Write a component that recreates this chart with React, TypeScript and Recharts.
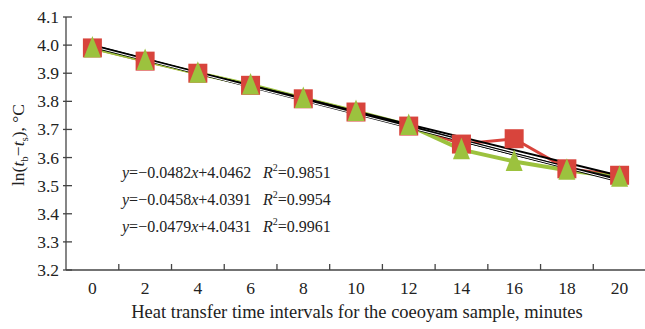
import React from "react";
import { LineChart, Line, XAxis, YAxis, ReferenceLine } from "recharts";

// heat transfer time (min)
const minutes = ["0", "2", "4", "6", "8", "10", "12", "14", "16", "18", "20"];
// ln(tb - ts) for the three runs
const run1 = [3.99, 3.943, 3.9, 3.857, 3.809, 3.762, 3.712, 3.648, 3.667, 3.56, 3.537];
const run2 = [3.99, 3.945, 3.9, 3.858, 3.81, 3.764, 3.714, 3.628, 3.586, 3.555, 3.53];
const run3 = [3.998, 3.95, 3.9, 3.856, 3.81, 3.761, 3.713, 3.66, 3.612, 3.566, 3.524];
// trendline ends (first and last interval)
const trendStart = [3.998, 3.993, 3.995];
const trendEnd = [3.516, 3.535, 3.516];
const equations = [
  { slope: "0.0482", icpt: "4.0462", r2: "0.9851" },
  { slope: "0.0458", icpt: "4.0391", r2: "0.9954" },
  { slope: "0.0479", icpt: "4.0431", r2: "0.9961" },
];
const yTicks = [3.2, 3.3, 3.4, 3.5, 3.6, 3.7, 3.8, 3.9, 4.0, 4.1];

const data = minutes.map((m, i) => ({ t: m, a: run1[i], b: run2[i], c: run3[i] }));

const FONT = "'Liberation Serif', 'Times New Roman', serif";
const AXIS_X = 66;
const AXIS_Y = 270;
const HALF_BAND = 26.4;

const Square = (props: any) => {
  const { cx, cy } = props;
  if (cx == null || cy == null) return null;
  return <rect x={cx - 9.5} y={cy - 9.5} width={19} height={19} fill="#d8443c" />;
};

const Triangle = (props: any) => {
  const { cx, cy } = props;
  if (cx == null || cy == null) return null;
  return (
    <polygon
      points={`${cx - 8.5},${cy + 9.5} ${cx + 8.5},${cy + 9.5} ${cx},${cy - 12}`}
      fill="#9cc23e"
    />
  );
};

const XTick = (props: any) => {
  const { x, payload } = props;
  return (
    <g>
      <line x1={x + HALF_BAND} x2={x + HALF_BAND} y1={AXIS_Y} y2={AXIS_Y - 6} stroke="#444" strokeWidth={1.3} />
      <text x={x} y={AXIS_Y + 24} textAnchor="middle" fontFamily={FONT} fontSize={17.5} fill="#222">
        {payload.value}
      </text>
    </g>
  );
};

const YTick = (props: any) => {
  const { y, payload } = props;
  return (
    <g>
      <line x1={AXIS_X - 3} x2={AXIS_X + 6} y1={y} y2={y} stroke="#444" strokeWidth={1.3} />
      <text x={AXIS_X - 7} y={y + 6} textAnchor="end" fontFamily={FONT} fontSize={17.5} fill="#222">
        {Number(payload.value).toFixed(1)}
      </text>
    </g>
  );
};

export default function App() {
  return (
    <div style={{ position: "fixed", left: 0, top: 0, width: 645, height: 329, overflow: "hidden", background: "#fff" }}>
      <LineChart
        width={652}
        height={329}
        data={data}
        margin={{ top: 17, right: 6, bottom: 0, left: 6 }}
      >
        <XAxis
          dataKey="t"
          height={59}
          padding={{ left: HALF_BAND, right: HALF_BAND }}
          axisLine={{ stroke: "#444", strokeWidth: 1.3 }}
          tickLine={false}
          tick={<XTick />}
          interval={0}
        />
        <YAxis
          width={60}
          domain={[3.2, 4.1]}
          ticks={yTicks}
          interval={0}
          axisLine={{ stroke: "#444", strokeWidth: 1.3 }}
          tickLine={false}
          tick={<YTick />}
        />
        <Line dataKey="a" stroke="#d8443c" strokeWidth={3} dot={<Square />} isAnimationActive={false} />
        <Line dataKey="b" stroke="#9cc23e" strokeWidth={4} dot={<Triangle />} isAnimationActive={false} />
        <Line dataKey="c" stroke="#111" strokeWidth={2.5} dot={false} isAnimationActive={false} />
        <ReferenceLine
          segment={[{ x: minutes[0], y: trendStart[0] }, { x: minutes[10], y: trendEnd[0] }]}
          stroke="#000"
          strokeWidth={3}
          ifOverflow="visible"
        />
        <ReferenceLine
          segment={[{ x: minutes[0], y: trendStart[1] }, { x: minutes[10], y: trendEnd[1] }]}
          stroke="#000"
          strokeWidth={2}
          ifOverflow="visible"
        />
        <ReferenceLine
          segment={[{ x: minutes[0], y: trendStart[2] }, { x: minutes[10], y: trendEnd[2] }]}
          stroke="#fff"
          strokeWidth={1}
          ifOverflow="visible"
        />
      </LineChart>

      <svg width={645} height={329} style={{ position: "absolute", left: 0, top: 0, pointerEvents: "none" }}>
        <text
          transform="translate(24,145) rotate(-90)"
          textAnchor="middle"
          fontFamily={FONT}
          fontSize={17.5}
          fill="#222"
        >
          ln(<tspan fontStyle="italic">t</tspan>
          <tspan fontSize={11} dy={4}>b</tspan>
          <tspan dy={-4}>−</tspan>
          <tspan fontStyle="italic">t</tspan>
          <tspan fontSize={11} dy={4}>s</tspan>
          <tspan dy={-4}>), °C</tspan>
        </text>
        <text x={357} y={318} textAnchor="middle" fontFamily={FONT} fontSize={18.5} fill="#222">
          Heat transfer time intervals for the coeoyam sample, minutes
        </text>
        {equations.map((eq, i) => (
          <g key={i} fontFamily={FONT} fontSize={16} fill="#222">
            <text x={122} y={178 + i * 27}>
              <tspan fontStyle="italic">y</tspan>=−{eq.slope}
              <tspan fontStyle="italic">x</tspan>+{eq.icpt}
            </text>
            <text x={263} y={178 + i * 27}>
              <tspan fontStyle="italic">R</tspan>
              <tspan fontSize={10} dy={-7}>2</tspan>
              <tspan dy={7}>={eq.r2}</tspan>
            </text>
          </g>
        ))}
      </svg>
    </div>
  );
}
